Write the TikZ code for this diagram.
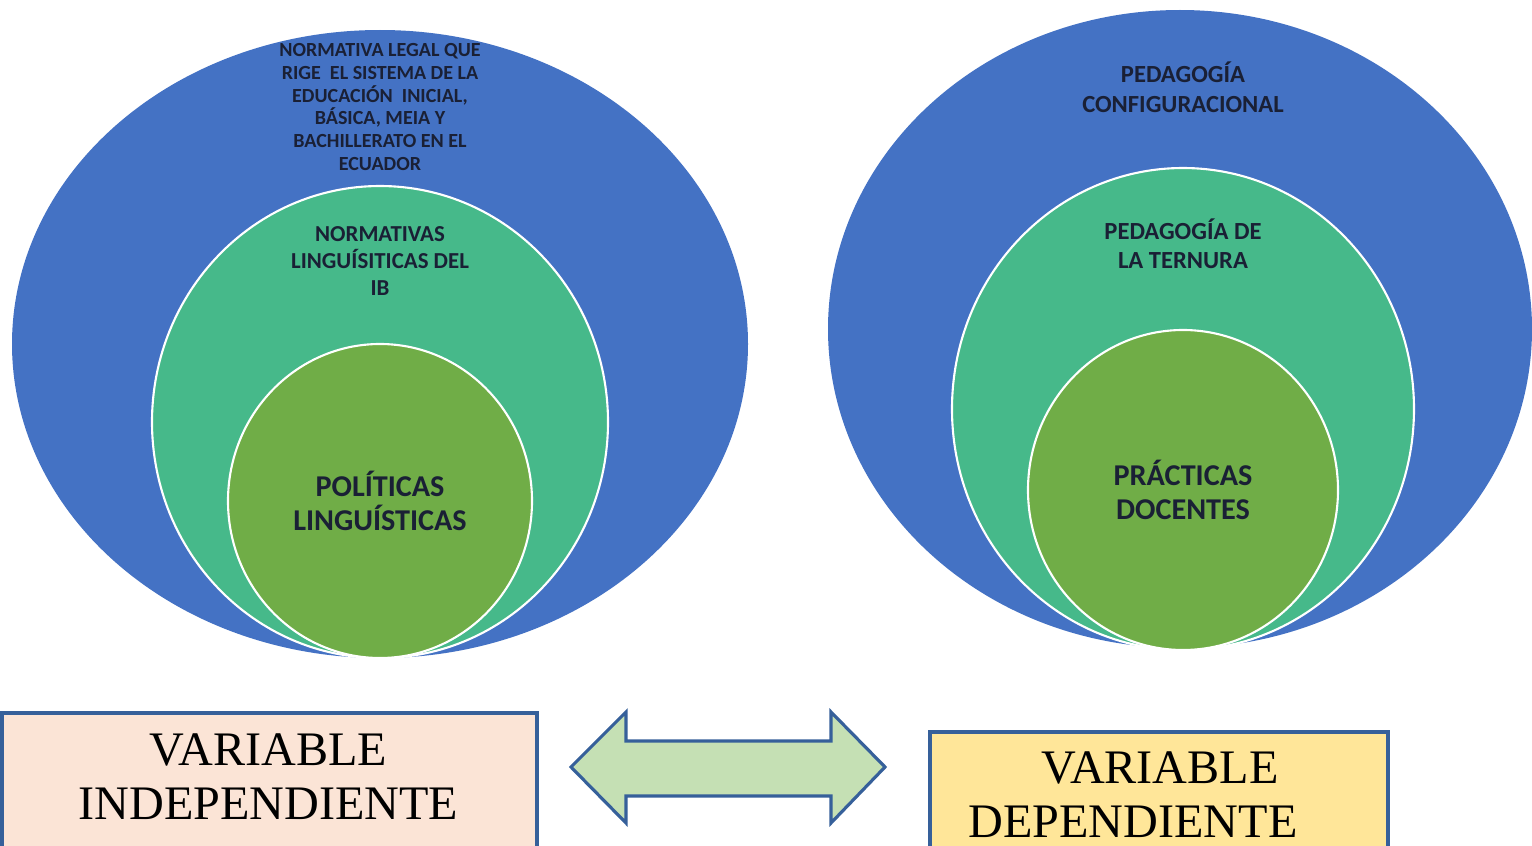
\documentclass[tikz,border=0pt]{standalone}
\usepackage{fontspec}
\setmainfont{Liberation Serif}
\newfontfamily\calib{Carlito}
\usepackage{tikz}
\usetikzlibrary{shapes.geometric,positioning}

\definecolor{capaazul}{HTML}{4472C4}
\definecolor{capaverde}{HTML}{46B98A}
\definecolor{capaoliva}{HTML}{70AD47}
\definecolor{textoosc}{HTML}{1A2035}
\definecolor{cajarosa}{HTML}{FBE4D6}
\definecolor{cajaamarilla}{HTML}{FFE699}
\definecolor{bordeazul}{HTML}{36609A}
\definecolor{flechaverde}{HTML}{C5E0B4}

\begin{document}
\begin{tikzpicture}[x=1cm,y=1cm,
  outer/.style={ellipse, fill=capaazul, inner sep=0pt},
  middle/.style={ellipse, fill=capaverde, draw=white, line width=0.6pt, inner sep=0pt},
  inner/.style={ellipse, fill=capaoliva, draw=white, line width=0.6pt, inner sep=0pt,
    text=textoosc, align=center, font=\calib\bfseries\fontsize{8.6}{9.9}\selectfont},
  rotulo/.style={text=textoosc, align=center, inner sep=0pt},
  varbox/.style={draw=bordeazul, line width=0.9pt, inner sep=0pt},
  vartext/.style={align=center, inner sep=0pt, font=\fontsize{13.7}{15.4}\selectfont}]
			\useasboundingbox (0,0) rectangle (15.32,8.45);
			% Define nodes
			\node[outer, minimum width=7.36cm, minimum height=6.28cm] (legal) at (3.80,5.01) {}; %
			\node[middle, minimum width=4.56cm, minimum height=4.72cm] (normas) at (3.80,4.23) {}; %
			\node[inner, minimum width=3.04cm, minimum height=3.14cm] (politicas) at (3.80,3.44) {POLÍTICAS\\LINGUÍSTICAS}; %
			\node[rotulo, font=\calib\bfseries\fontsize{5.7}{6.5}\selectfont] (legaltxt) at (3.80,7.38)
			{NORMATIVA LEGAL QUE\\RIGE\ \ EL SISTEMA DE LA\\EDUCACIÓN\ \ INICIAL,\\BÁSICA, MEIA Y\\BACHILLERATO EN EL\\ECUADOR}; %
			\node[rotulo, font=\calib\bfseries\fontsize{6.5}{7.7}\selectfont] (normastxt) at (3.80,5.84)
			{NORMATIVAS\\LINGUÍSITICAS DEL\\IB}; %
			\node[outer, minimum width=7.04cm, minimum height=6.38cm] (config) at (11.80,5.16) {}; %
			\node[middle, minimum width=4.62cm, minimum height=4.82cm] (ternura) at (11.83,4.36) {}; %
			\node[inner, minimum width=3.10cm, minimum height=3.20cm] (practicas) at (11.83,3.55) {PRÁCTICAS\\DOCENTES}; %
			\node[rotulo, font=\calib\bfseries\fontsize{7.0}{8.5}\selectfont] (configtxt) at (11.83,7.575)
			{PEDAGOGÍA\\CONFIGURACIONAL}; %
			\node[rotulo, font=\calib\bfseries\fontsize{7.0}{8.2}\selectfont] (ternuratxt) at (11.83,6.015)
			{PEDAGOGÍA DE\\LA TERNURA}; %
			%% boxes
			\node[varbox, fill=cajarosa, minimum width=5.35cm, minimum height=1.42cm] (indep) at (2.695,0.61) {}; %
			\node[vartext] (indeptxt) at (2.685,0.68) {VARIABLE\\INDEPENDIENTE}; %
			\node[varbox, fill=cajaamarilla, minimum width=4.58cm, minimum height=1.23cm] (dep) at (11.59,0.515) {}; %
			\node[vartext] (deptxt) at (11.33,0.50) {\hspace*{0.54cm}VARIABLE\\DEPENDIENTE}; %
			%% double arrow
			\draw[draw=bordeazul, line width=0.9pt, fill=flechaverde, line join=miter]
			(5.71,0.78) -- (6.26,1.33) -- (6.26,1.04) -- (8.31,1.04) -- (8.31,1.33) -- (8.85,0.78)
			-- (8.31,0.22) -- (8.31,0.49) -- (6.26,0.49) -- (6.26,0.22) -- cycle;
\end{tikzpicture}
\end{document}
